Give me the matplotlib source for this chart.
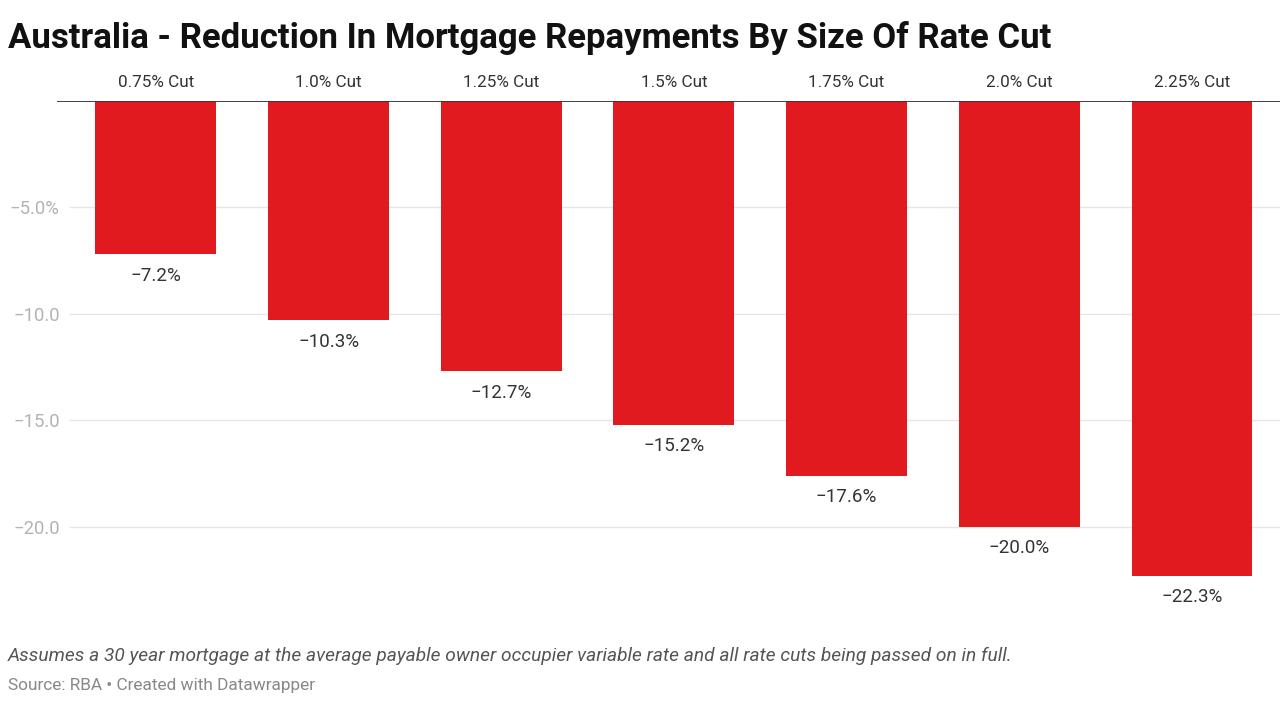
import numpy as np
import matplotlib
matplotlib.use("Agg")
import matplotlib.pyplot as plt

# Data
categories = ['0.75% Cut', '1.0% Cut', '1.25% Cut', '1.5% Cut', '1.75% Cut', '2.0% Cut', '2.25% Cut']
values = [-7.2, -10.3, -12.7, -15.2, -17.6, -20.0, -22.3]
yticks = [-5, -10, -15, -20]
ytick_labels = ['\u22125.0%', '\u221210.0', '\u221215.0', '\u221220.0']

plt.rcParams['font.family'] = ['Roboto', 'DejaVu Sans']

fig = plt.figure(figsize=(12.8, 7.19), dpi=100)
ax = fig.add_axes([0.0445, 0.1488, 0.9555, 0.7107])

x = np.arange(len(categories))
bars = ax.bar(x, values, width=0.70, color='#e01a1f', zorder=3)

ax.set_xlim(-0.573, 6.51)
ax.set_ylim(-24.0, 0)

# gridlines
for t in yticks:
    ax.axhline(t, xmin=0.011, color='#e6e6e6', linewidth=1, zorder=1)
ax.axhline(0, color='#333333', linewidth=1.3, zorder=4)

for s in ax.spines.values():
    s.set_visible(False)
ax.set_xticks([])
ax.set_yticks(yticks)
ax.set_yticklabels(ytick_labels, fontsize=13.3, color='#b3b3b3')
ax.tick_params(axis='y', length=0, pad=-2)

# category labels above the bars
for xi, c in zip(x, categories):
    ax.text(xi, 0.85, c, ha='center', va='center', fontsize=12.3, color='#333333')

# value labels under the bars
for xi, v in zip(x, values):
    ax.text(xi, v - 1.0, ('%.1f%%' % v).replace('-', '\u2212'), ha='center', va='center',
            fontsize=13.5, color='#333333')

fig.text(0.006, 0.947, 'Australia - Reduction In Mortgage Repayments By Size Of Rate Cut',
         fontsize=25, fontweight='bold', color='#111111', va='center', ha='left')
fig.text(0.006, 0.087, 'Assumes a 30 year mortgage at the average payable owner occupier variable rate and all rate cuts being passed on in full.',
         fontsize=13.8, style='italic', color='#555555', va='center', ha='left')
fig.text(0.006, 0.047, 'Source: RBA \u2022 Created with Datawrapper',
         fontsize=12.4, color='#888888', va='center', ha='left')

fig.savefig('out.png', dpi=100)
